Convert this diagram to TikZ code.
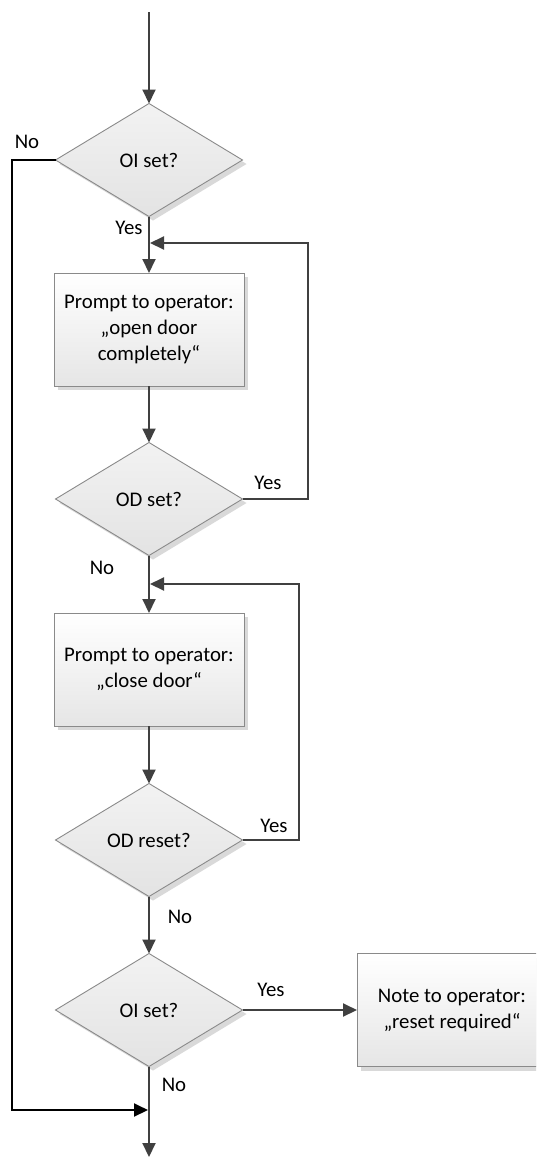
\documentclass[tikz,border=0pt]{standalone}
\usepackage{fontspec}
\setmainfont{Carlito}
\usetikzlibrary{shapes.geometric,arrows.meta,shadows}
\definecolor{linecol}{HTML}{404040}
\definecolor{bordercol}{HTML}{8A8A8A}
\definecolor{shadowcol}{HTML}{D9D9D9}
\tikzset{
  base/.style={draw=bordercol, line width=0.9pt, inner sep=0pt, outer sep=0pt, align=center,
    font=\fontsize{20.8}{26}\selectfont,
    drop shadow={shadow xshift=4pt, shadow yshift=-4pt, fill=shadowcol, opacity=1}},
  stepbox/.style={base, rectangle, minimum width=190pt, minimum height=113pt,
    top color=white, bottom color=black!10},
  decision/.style={base, diamond, aspect=1.65, minimum width=187pt, minimum height=113pt,
    top color=black!5, bottom color=black!11},
  conn/.style={draw=linecol, line width=2pt, -{Triangle[length=14pt,width=13pt]}},
  lbl/.style={font=\fontsize{20.8}{26}\selectfont, inner sep=0pt}
}
\begin{document}
\begin{tikzpicture}[x=1pt,y=-1pt]
\useasboundingbox (0,0) rectangle (536,1157);
\clip (0,0) rectangle (536,1157);
\fill[white] (0,0) rectangle (536,1157);

\coordinate (start) at (149,12);
\node[decision] (d1) at (149,160) {OI set?};
\node[stepbox] (b1) at (149,329.5) {Prompt to operator:\\„open door\\completely“};
\node[decision] (d2) at (149,499) {OD set?};
\node[stepbox] (b2) at (149,669.5) {Prompt to operator:\\„close door“};
\node[decision] (d3) at (149,840) {OD reset?};
\node[decision] (d4) at (149,1010) {OI set?};
\node[stepbox] (b3) at (452,1010) {Note to operator:\\„reset required“};
\coordinate (end) at (149,1157);

\coordinate (j1) at (149,243);
\coordinate (j2) at (149,584);
\coordinate (j3) at (149,1110);
\coordinate (r1) at (308,243);
\coordinate (r2) at (299,584);
\coordinate (l1) at (12,160);
\coordinate (l2) at (12,1110);

% main flow
\draw[conn] (start) -- (d1.north);
\draw[conn] (d1.south) -- (b1.north);
\draw[conn] (b1.south) -- (d2.north);
\draw[conn] (d2.south) -- (b2.north);
\draw[conn] (b2.south) -- (d3.north);
\draw[conn] (d3.south) -- (d4.north);
\draw[conn] (d4.east) -- (b3.west);
\draw[conn] (d4.south) -- (end);

% loops
\draw[conn] (d2.east) -| (r1) -- ([xshift=1pt]j1);
\draw[conn] (d3.east) -| (r2) -- ([xshift=1pt]j2);

% No bypass
\draw[line width=2pt, draw=black, -{Triangle[length=14pt,width=13pt]}] (d1.west) -- (l1) -- (l2) -- ([xshift=-1pt]j3);

% labels
\node[lbl] (t1) at (27,142) {No};
\node[lbl] (t2) at (129,228) {Yes};
\node[lbl] (t3) at (268,483) {Yes};
\node[lbl] (t4) at (102,568) {No};
\node[lbl] (t5) at (274,826) {Yes};
\node[lbl] (t6) at (180,917) {No};
\node[lbl] (t7) at (271,990) {Yes};
\node[lbl] (t8) at (174,1085) {No};
\end{tikzpicture}
\end{document}
